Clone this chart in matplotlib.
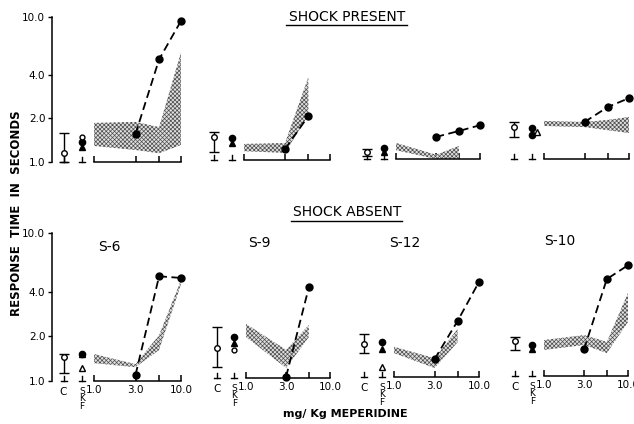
import matplotlib
matplotlib.use("Agg")
import matplotlib.pyplot as plt
import numpy as np
from matplotlib.lines import Line2D
from matplotlib.ticker import NullLocator

# doses in mg/kg meperidine
doses = [1.0, 3.0, 5.6, 10.0]
subjects = ["S-6", "S-9", "S-12", "S-10"]

# ---- shock present (top row) ----
c_mean_p = [1.15, 1.44, 1.12, 1.66]
c_lo_p = [1.00, 1.13, 1.05, 1.42]
c_hi_p = [1.58, 1.56, 1.17, 1.80]
skf_circ_p = [1.37, 1.42, 1.19, 1.64]
skf_tri_p = [1.27, 1.31, 1.12, None]
skf_open_circ_p = [1.49, None, None, None]
skf_open_tri_p = [None, None, None, 1.53]
skf_circ2_p = [None, None, None, 1.46]
band_hi_p = [[1.86, 1.89, 1.74, 5.7],
             [1.29, 1.31, 3.73],
             [1.29, 1.07, 1.23],
             [1.83, 1.80, 1.86, 1.95]]
band_lo_p = [[1.29, 1.21, 1.15, 1.31],
             [1.15, 1.12, 2.04],
             [1.15, 1.00, 1.00],
             [1.69, 1.66, 1.58, 1.51]]
drug_p = [[1.56, 5.1, 9.4],
          [1.19, 2.01],
          [1.42, 1.56, 1.71],
          [1.80, 2.28, 2.63]]

# ---- shock absent (bottom row) ----
c_mean_a = [1.45, 1.59, 1.67, 1.72]
c_lo_a = [1.13, 1.19, 1.45, 1.50]
c_hi_a = [1.52, 2.21, 1.95, 1.83]
skf_circ_a = [1.52, 1.89, 1.72, 1.62]
skf_tri_a = [1.52, 1.72, 1.55, 1.52]
skf_open_circ_a = [None, 1.55, None, None]
skf_open_tri_a = [1.22, None, 1.17, None]
skf_circ2_a = [None, None, None, None]
band_hi_a = [[1.52, 1.30, 2.04, 4.8],
             [2.32, 1.55, 2.28],
             [1.60, 1.34, 2.11],
             [1.75, 1.89, 1.70, 3.64]]
band_lo_a = [[1.32, 1.24, 1.62, 4.5],
             [1.89, 1.17, 1.89],
             [1.45, 1.15, 1.72],
             [1.50, 1.62, 1.43, 2.32]]
drug_a = [[1.10, 5.1, 4.97],
          [1.02, 4.1],
          [1.32, 2.39, 4.39],
          [1.52, 4.52, 5.6]]

W, H = 634, 424
fig = plt.figure(figsize=(W / 100, H / 100), dpi=100)
plt.rcParams["hatch.linewidth"] = 0.5

# panel geometry in pixels: x of dose 1, x of dose 10, y of 1.0 s, px per decade
geo_top = [(94, 181, 162, 145), (244, 330, 160, 145), (396, 480, 159, 145), (544, 629, 159, 145)]
geo_bot = [(94, 181, 381, 148), (246, 330, 378, 148), (394, 479, 377, 148), (544, 628, 376, 148)]
XC, XS = -0.35, -0.14  # positions of control and SKF columns (log-dose units)
OTRI_DX = [0, 0, 0, 0.06]
XL = (-0.6, 1.1)
YL = (10 ** -0.15, 10 ** 1.1)


def make_ax(x0, x1, ybase, dec):
    ux = x1 - x0
    left = x0 + XL[0] * ux
    width = (XL[1] - XL[0]) * ux
    ytop = ybase - np.log10(YL[1]) * dec
    ybot = ybase - np.log10(YL[0]) * dec
    ax = fig.add_axes([left / W, 1 - ybot / H, width / W, (ybot - ytop) / H])
    ax.set_yscale("log")
    ax.set_xlim(XL)
    ax.set_ylim(YL)
    ax.patch.set_alpha(0)
    return ax


def draw_panel(ax, i, first, bottom, c_mean, c_lo, c_hi, circ, tri, ocirc, otri, circ2,
               bhi, blo, drug):
    for s in ["top", "right"]:
        ax.spines[s].set_visible(False)
    ax.spines["bottom"].set_position(("data", 1.0))
    ax.spines["bottom"].set_bounds(0, 1)
    ax.spines["bottom"].set_linewidth(1.1)
    ax.xaxis.set_minor_locator(NullLocator())
    ax.yaxis.set_minor_locator(NullLocator())
    ax.set_xticks(np.log10(doses))
    ax.tick_params(axis="x", direction="in", length=4, width=1.1, pad=3, labelsize=7.5)
    if bottom:
        ax.set_xticklabels(["1.0", "3.0", "", "10.0"])
    else:
        ax.set_xticklabels([])
    if first:
        ax.spines["left"].set_position(("data", -0.48))
        ax.spines["left"].set_bounds(1, 10)
        ax.spines["left"].set_linewidth(1.1)
        ax.set_yticks([1, 2, 4, 10])
        ax.set_yticklabels(["1.0", "2.0", "4.0", "10.0"])
        ax.tick_params(axis="y", length=3, width=1, pad=2, labelsize=7.5)
    else:
        ax.spines["left"].set_visible(False)
        ax.set_yticks([])

    # little base marks under C and SKF
    for xp in (XC, XS):
        ax.plot([xp, xp], [1.0, 1.08], color="black", lw=1)
        ax.plot([xp - 0.035, xp + 0.035], [1.0, 1.0], color="black", lw=1)

    # saline control mean and range
    ax.errorbar([XC], [c_mean[i]], yerr=[[c_mean[i] - c_lo[i]], [c_hi[i] - c_mean[i]]],
                fmt="o", mfc="white", mec="black", ms=4, mew=1, color="black",
                elinewidth=1, capsize=3.5, capthick=1, zorder=5)

    # SKF values
    if circ[i] is not None:
        ax.plot([XS], [circ[i]], "o", color="black", ms=4.5, zorder=5)
    if circ2[i] is not None:
        ax.plot([XS], [circ2[i]], "o", color="black", ms=4.5, zorder=5)
    if tri[i] is not None:
        ax.plot([XS], [tri[i]], "^", color="black", ms=4.5, zorder=5)
    if ocirc[i] is not None:
        ax.plot([XS], [ocirc[i]], "o", mfc="white", mec="black", ms=3.5, zorder=6)
    if otri[i] is not None:
        ax.plot([XS + OTRI_DX[i]], [otri[i]], "^", mfc="white", mec="black", ms=4, zorder=6)

    # range of saline-alone values (stippled band)
    xb = np.log10(doses[:len(bhi[i])])
    ax.fill_between(xb, blo[i], bhi[i], facecolor="0.88", edgecolor="0.3",
                    hatch="xxxxxxxx", lw=0, zorder=2)

    # meperidine dose-effect
    xd = np.log10(doses[1:1 + len(drug[i])])
    ax.plot(xd, drug[i], color="black", lw=1.3, ls=(0, (4.5, 2.5)), marker="o",
            ms=5, zorder=4)

    if bottom:
        ax.annotate("C", (XC, 1.0), xytext=(0, -4), textcoords="offset points",
                    ha="center", va="top", fontsize=7.5)
        ax.annotate("S\nK\nF", (XS, 1.0), xytext=(0, -4), textcoords="offset points",
                    ha="center", va="top", fontsize=6.5, linespacing=0.8)


for i in range(4):
    ax = make_ax(*geo_top[i])
    draw_panel(ax, i, i == 0, False, c_mean_p, c_lo_p, c_hi_p, skf_circ_p, skf_tri_p,
               skf_open_circ_p, skf_open_tri_p, skf_circ2_p, band_hi_p, band_lo_p, drug_p)
    ax = make_ax(*geo_bot[i])
    draw_panel(ax, i, i == 0, True, c_mean_a, c_lo_a, c_hi_a, skf_circ_a, skf_tri_a,
               skf_open_circ_a, skf_open_tri_a, skf_circ2_a, band_hi_a, band_lo_a, drug_a)

# headings
fig.text(347 / W, 1 - 17 / H, "SHOCK PRESENT", ha="center", va="center", fontsize=10)
fig.add_artist(Line2D([286 / W, 407 / W], [1 - 25 / H, 1 - 25 / H], color="black", lw=1))
fig.text(347 / W, 1 - 212 / H, "SHOCK ABSENT", ha="center", va="center", fontsize=10)
fig.add_artist(Line2D([291 / W, 402 / W], [1 - 221 / H, 1 - 221 / H], color="black", lw=1))

for name, xp, yp in zip(subjects, [109, 259, 405, 560], [247, 243, 243, 241]):
    fig.text(xp / W, 1 - yp / H, name, ha="center", va="center", fontsize=10)

fig.text(17 / W, 1 - 213 / H, "RESPONSE  TIME  IN  SECONDS", rotation=90, ha="center",
         va="center", fontsize=8.5, fontweight="bold")
fig.text(345 / W, 1 - 414 / H, "mg/ Kg MEPERIDINE", ha="center", va="center",
         fontsize=8, fontweight="bold")

fig.savefig("out.png", dpi=100)
